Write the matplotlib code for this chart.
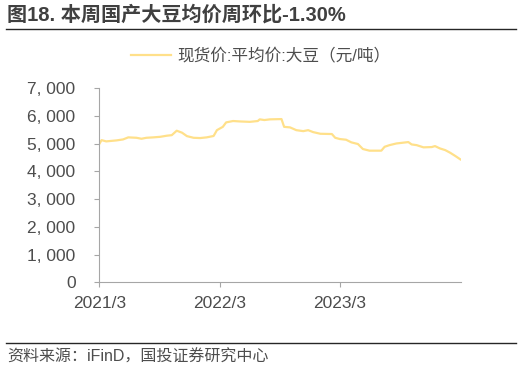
import matplotlib
matplotlib.use('Agg')
import matplotlib.pyplot as plt
from matplotlib.lines import Line2D
from matplotlib.ticker import FuncFormatter
import pandas as pd

plt.rcParams['font.family'] = ['Liberation Sans', 'Noto Sans CJK SC', 'DejaVu Sans']

# data (元/吨)
dates = ['2021-03-01', '2021-03-08', '2021-03-22', '2021-04-22', '2021-05-12', '2021-05-28',
         '2021-06-22', '2021-07-07', '2021-07-22', '2021-08-12', '2021-09-02', '2021-09-22',
         '2021-10-07', '2021-10-22', '2021-11-07', '2021-11-22', '2021-12-12', '2022-01-01',
         '2022-01-21', '2022-02-11', '2022-02-21', '2022-03-11', '2022-03-21', '2022-04-11',
         '2022-05-01', '2022-06-01', '2022-06-25', '2022-07-01', '2022-07-15', '2022-08-01',
         '2022-09-05', '2022-09-13', '2022-10-01', '2022-10-20', '2022-11-10', '2022-11-25',
         '2022-12-10', '2023-01-01', '2023-02-05', '2023-02-15', '2023-03-01', '2023-03-20',
         '2023-04-05', '2023-04-25', '2023-05-10', '2023-05-30', '2023-07-05', '2023-07-15',
         '2023-07-30', '2023-08-20', '2023-09-25', '2023-10-05', '2023-10-20', '2023-11-10',
         '2023-12-05', '2023-12-15', '2023-12-30', '2024-01-15', '2024-01-30', '2024-02-15',
         '2024-03-01']
price = [4990, 5130, 5085, 5120, 5155, 5230,
         5215, 5180, 5215, 5230, 5250, 5290,
         5310, 5470, 5400, 5275, 5215, 5205,
         5230, 5280, 5490, 5610, 5770, 5820,
         5805, 5790, 5820, 5880, 5855, 5880,
         5890, 5610, 5590, 5490, 5455, 5490,
         5420, 5360, 5350, 5215, 5170, 5145,
         5050, 4990, 4810, 4750, 4750, 4890,
         4950, 5010, 5060, 4975, 4950, 4870,
         4880, 4915, 4830, 4770, 4675, 4555,
         4435]
yticks = [0, 1000, 2000, 3000, 4000, 5000, 6000, 7000]
xticks = ['2021-03-01', '2022-03-01', '2023-03-01']
xticklabels = ['2021/3', '2022/3', '2023/3']

title = '图18. 本周国产大豆均价周环比-1.30%'
series_name = '现货价:平均价:大豆（元/吨）'
source = '资料来源：iFinD，国投证券研究中心'

line_color = '#FFE08A'
axis_color = '#A6A6A6'
text_color = '#4D4D4D'

fig = plt.figure(figsize=(5.22, 3.68), dpi=100)
ax = fig.add_axes([0.1902, 0.2329, 0.6924, 0.5271])

x = pd.to_datetime(dates)
ax.plot(x, price, color=line_color, lw=1.6)

ax.set_ylim(0, 7000)
ax.set_xlim(pd.Timestamp('2021-03-01'), pd.Timestamp('2024-03-02'))
ax.set_yticks(yticks)
ax.yaxis.set_major_formatter(FuncFormatter(lambda v, p: '{:,.0f}'.format(v).replace(',', ', ')))
ax.set_xticks(pd.to_datetime(xticks))
ax.set_xticklabels(xticklabels)

for s in ['top', 'right']:
    ax.spines[s].set_visible(False)
for s in ['left', 'bottom']:
    ax.spines[s].set_color(axis_color)
    ax.spines[s].set_linewidth(0.8)
ax.tick_params(axis='both', colors=axis_color, labelcolor=text_color, labelsize=12.5,
               length=3.6, width=0.8)
ax.tick_params(axis='y', pad=13.5)
ax.tick_params(axis='x', pad=6.5)

# legend
h = Line2D([], [], color=line_color, lw=1.6)
fig.legend([h], [series_name], loc='center', bbox_to_anchor=(0.5, 0.848), frameon=False,
           fontsize=12, handlelength=2.4, handletextpad=0.4, labelcolor=text_color)

# title and rules
fig.text(0.0134, 0.959, title, fontsize=14.5, fontweight='bold', color='#404040',
         ha='left', va='center')
fig.add_artist(Line2D([0.0115, 0.9885], [0.920, 0.920], color='#262626', lw=1.0))
fig.add_artist(Line2D([0.0115, 0.9885], [0.068, 0.068], color='#262626', lw=1.0))
fig.text(0.0134, 0.030, source, fontsize=11.5, color=text_color, ha='left', va='center')

fig.savefig('out.png', dpi=100)
